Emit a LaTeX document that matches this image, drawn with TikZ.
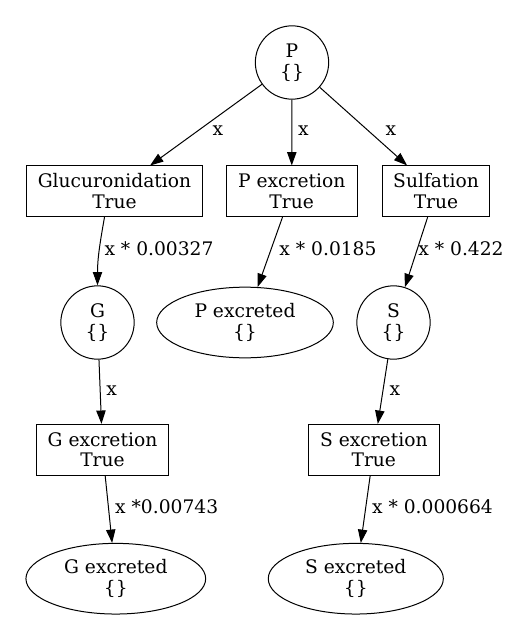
\documentclass[tikz,border=0pt]{standalone}
\usepackage{fontspec}
\setmainfont{DejaVu Serif}
\usetikzlibrary{shapes.geometric,arrows.meta}
\begin{document}
\begin{tikzpicture}[x=0.75pt,y=-0.75pt,
  every node/.style={font=\fontsize{14pt}{15.5pt}\selectfont, align=center, inner sep=0pt},
  statenode/.style={draw, circle, minimum size=55pt, line width=0.75pt},
  boxnode/.style={draw, rectangle, minimum height=38pt, line width=0.75pt},
  endnode/.style={draw, ellipse, minimum height=53pt, line width=0.75pt},
  arr/.style={-{Triangle[length=10pt,width=7pt]}, line width=0.75pt},
  lbl/.style={}]
\useasboundingbox (0,0) rectangle (523,642);
\node[statenode] (P) at (292,62.5) {P\\\{\}};
\node[boxnode, minimum width=131.7pt] (gluc) at (114.5,191.3) {Glucuronidation\\True};
\node[boxnode, minimum width=98.3pt] (pexc) at (291.7,191.3) {P excretion\\True};
\node[boxnode, minimum width=80.8pt] (sulf) at (436,191.3) {Sulfation\\True};
\node[statenode] (G) at (97.5,322.5) {G\\\{\}};
\node[endnode, minimum width=132.5pt] (pexd) at (245,322.5) {P excreted\\\{\}};
\node[statenode] (S) at (393.5,322.5) {S\\\{\}};
\node[boxnode, minimum width=98.6pt] (gexc) at (102.5,449.7) {G excretion\\True};
\node[boxnode, minimum width=98.3pt] (sexc) at (373.8,449.7) {S excretion\\True};
\node[endnode, minimum width=134.8pt] (gexd) at (115.8,578.7) {G excreted\\\{\}};
\node[endnode, minimum width=131.3pt] (sexd) at (355.8,578.7) {S excreted\\\{\}};

\draw[arr] (P) -- (gluc);
\draw[arr] (P) -- (pexc);
\draw[arr] (P) -- (sulf);
\draw[arr] ([xshift=-7.5pt]gluc.south) to[out=-100, in=90] (G.north);
\draw[arr] (pexc) -- (pexd);
\draw[arr] (sulf) -- (S);
\draw[arr] (G) -- (gexc);
\draw[arr] (S) -- (sexc);
\draw[arr] (gexc) -- (gexd);
\draw[arr] (sexc) -- (sexd);

\node[lbl] (l1) at (218,131) {x};
\node[lbl] (l2) at (303.3,131) {x};
\node[lbl] (l3) at (391,131) {x};
\node[lbl] (l4) at (159,249) {x * 0.00327};
\node[lbl] (l5) at (328,249) {x * 0.0185};
\node[lbl] (l6) at (461,249) {x * 0.422};
\node[lbl] (l7) at (111.7,390.5) {x};
\node[lbl] (l8) at (395,390.5) {x};
\node[lbl] (l9) at (166.7,507) {x *0.00743};
\node[lbl] (l10) at (432.5,507) {x * 0.000664};
\end{tikzpicture}
\end{document}
